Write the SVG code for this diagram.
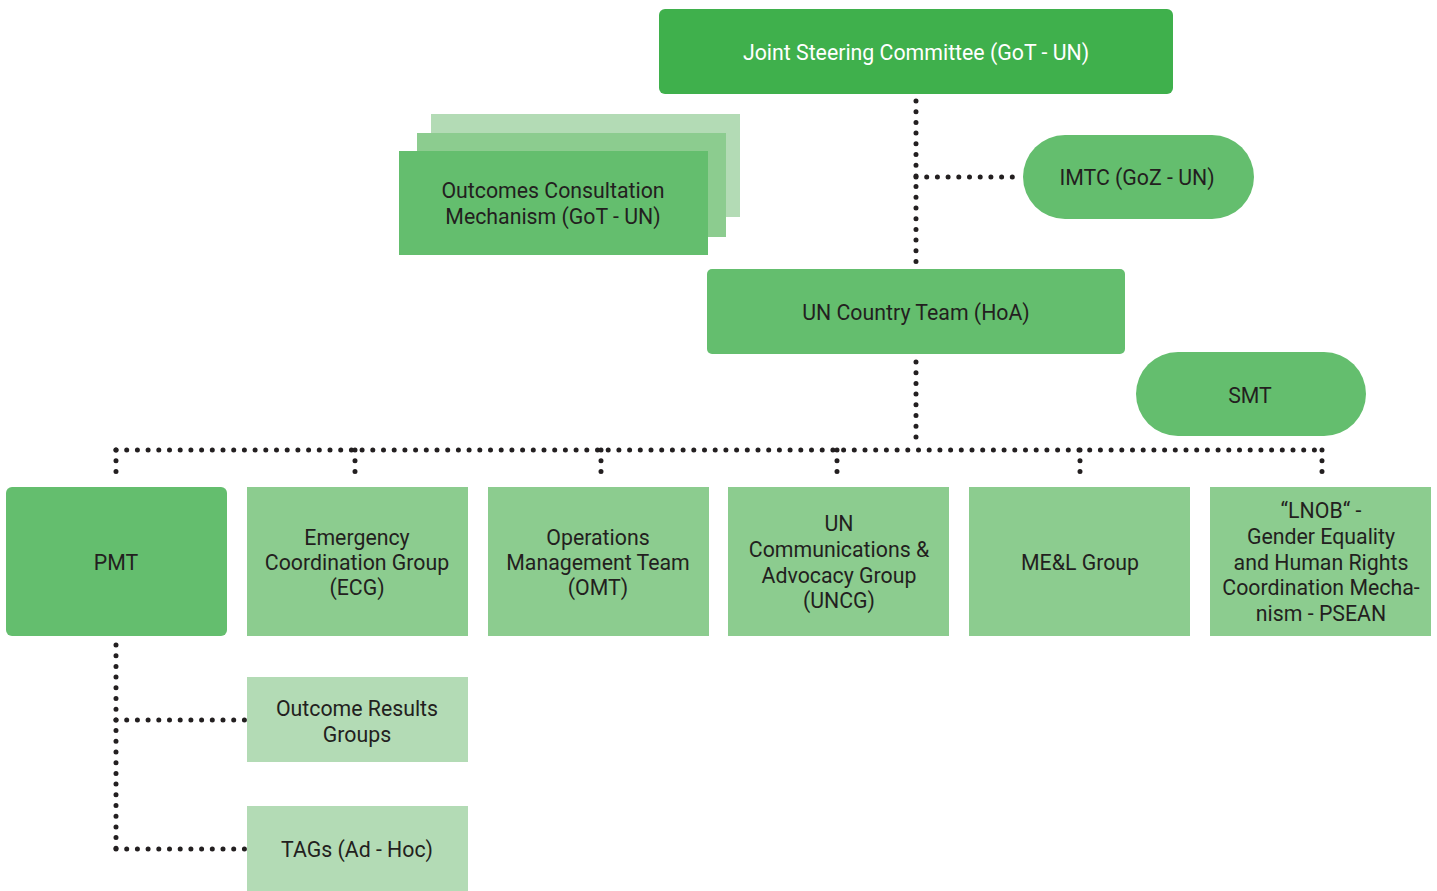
<svg xmlns="http://www.w3.org/2000/svg" width="1437" height="891" viewBox="0 0 1437 891">
<style>
text{font-family:Roboto,"Liberation Sans",sans-serif;font-size:21.3px;fill:#231f20;text-anchor:middle}
.w{fill:#ffffff}
.c1{fill:#3fb04c}
.c2{fill:#64be6e}
.c3{fill:#8ccc8f}
.c4{fill:#b3dbb5}
.dot{fill:none;stroke:#231f20;stroke-width:5;stroke-linecap:round;stroke-dasharray:0 10.7}
</style>
<rect width="1437" height="891" fill="#ffffff"/>
<g id="connectors">
<path class="dot" d="M916 101V265"/>
<path class="dot" d="M916 177H1020"/>
<path class="dot" d="M916 362V440"/>
<path class="dot" d="M116 450H1322"/>
<path class="dot" d="M116 450V482"/>
<path class="dot" d="M355 450V482"/>
<path class="dot" d="M601 450V482"/>
<path class="dot" d="M837 450V482"/>
<path class="dot" d="M1080 450V482"/>
<path class="dot" d="M1322 450V482"/>
<path class="dot" d="M116 645V849"/>
<path class="dot" d="M116 720H246"/>
<path class="dot" d="M116 849H246"/>
</g>
<g id="jsc"><rect class="c1" x="659" y="9" width="514" height="85" rx="6"/><text class="w" x="916" y="60">Joint Steering Committee (GoT - UN)</text></g>
<g id="ocm">
<rect class="c4" x="431" y="114" width="309" height="103"/>
<rect class="c3" x="417" y="133" width="309" height="104"/>
<rect class="c2" x="399" y="151" width="309" height="104"/>
<text x="553" y="198">Outcomes Consultation</text><text x="553" y="224">Mechanism (GoT - UN)</text>
</g>
<g id="imtc"><rect class="c2" x="1023" y="135" width="231" height="84" rx="42"/><text x="1137" y="185">IMTC (GoZ - UN)</text></g>
<g id="unct"><rect class="c2" x="707" y="269" width="418" height="85" rx="5"/><text x="916" y="320">UN Country Team (HoA)</text></g>
<g id="smt"><rect class="c2" x="1136" y="352" width="230" height="84" rx="42"/><text x="1250" y="403">SMT</text></g>
<g id="pmt"><rect class="c2" x="6" y="487" width="221" height="149" rx="6"/><text x="116" y="570">PMT</text></g>
<g id="ecg"><rect class="c3" x="247" y="487" width="221" height="149"/><text x="357" y="545">Emergency</text><text x="357" y="570">Coordination Group</text><text x="357" y="595">(ECG)</text></g>
<g id="omt"><rect class="c3" x="488" y="487" width="221" height="149"/><text x="598" y="545">Operations</text><text x="598" y="570">Management Team</text><text x="598" y="595">(OMT)</text></g>
<g id="uncg"><rect class="c3" x="728" y="487" width="221" height="149"/><text x="839" y="531">UN</text><text x="839" y="557">Communications &amp;</text><text x="839" y="583">Advocacy Group</text><text x="839" y="608">(UNCG)</text></g>
<g id="mel"><rect class="c3" x="969" y="487" width="221" height="149"/><text x="1080" y="570">ME&amp;L Group</text></g>
<g id="lnob"><rect class="c3" x="1210" y="487" width="221" height="149"/><text x="1321" y="518">“LNOB“ -</text><text x="1321" y="544">Gender Equality</text><text x="1321" y="570">and Human Rights</text><text x="1321" y="595">Coordination Mecha-</text><text x="1321" y="621">nism - PSEAN</text></g>
<g id="org"><rect class="c4" x="247" y="677" width="221" height="85"/><text x="357" y="716">Outcome Results</text><text x="357" y="742">Groups</text></g>
<g id="tags"><rect class="c4" x="247" y="806" width="221" height="85"/><text x="357" y="857">TAGs (Ad - Hoc)</text></g>
</svg>
